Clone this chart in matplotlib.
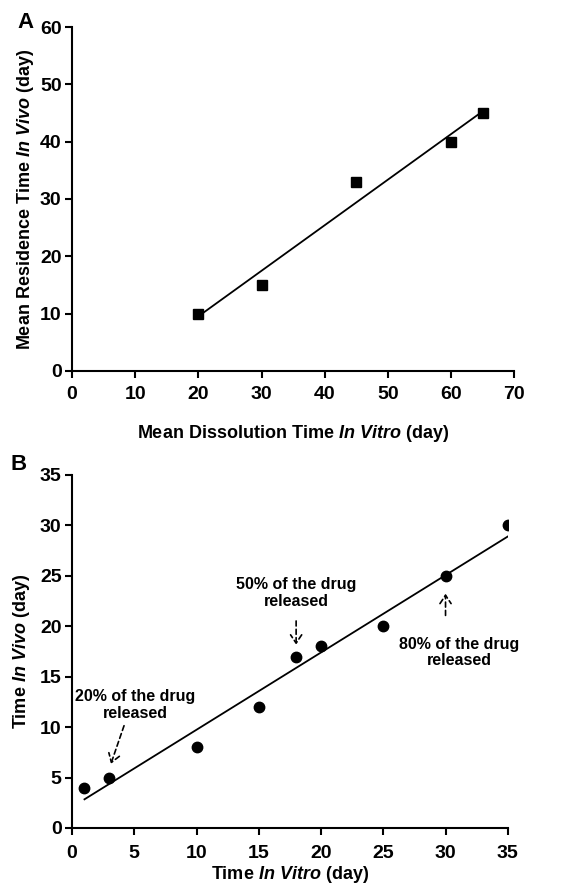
import numpy as np
import matplotlib
matplotlib.use("Agg")
import matplotlib.pyplot as plt

plt.rcParams['font.family'] = ['Liberation Sans', 'DejaVu Sans']
plt.rcParams['font.weight'] = 'bold'
plt.rcParams['mathtext.fontset'] = 'custom'
plt.rcParams['mathtext.it'] = 'Liberation Sans:italic:bold'
plt.rcParams['mathtext.rm'] = 'Liberation Sans:bold'

# Panel A data
a_x = [20, 30, 45, 60, 65]
a_y = [10, 15, 33, 40, 45]
a_xticks = [0, 10, 20, 30, 40, 50, 60, 70]
a_yticks = [0, 10, 20, 30, 40, 50, 60]

# Panel B data
b_x = [1, 3, 10, 15, 18, 20, 25, 30, 35]
b_y = [4, 5, 8, 12, 17, 18, 20, 25, 30]
b_xticks = [0, 5, 10, 15, 20, 25, 30, 35]
b_yticks = [0, 5, 10, 15, 20, 25, 30, 35]

ann_texts = ["20% of the drug\nreleased", "50% of the drug\nreleased", "80% of the drug\nreleased"]
ann_text_pos = [(5.1, 12.2), (18.0, 23.3), (31.1, 17.4)]
ann_arrow_from = [(4.25, 10.4), (18.0, 20.8), (30.0, 20.8)]
ann_arrow_to = [(3.05, 6.1), (18.0, 17.9), (30.0, 23.5)]

fig = plt.figure(figsize=(5.79, 8.86), dpi=100)
axA = fig.add_axes([0.1244, 0.5813, 0.888 - 0.1244, 0.9695 - 0.5813])
axB = fig.add_axes([0.1244, 0.0655, 0.877 - 0.1244, 0.4639 - 0.0655])

def style(ax, xpad):
    for s in ['top', 'right']:
        ax.spines[s].set_visible(False)
    for s in ['left', 'bottom']:
        ax.spines[s].set_linewidth(1.5)
    ax.tick_params(direction='out', length=5, width=1.5, labelsize=14, pad=2.5)
    ax.tick_params(axis='x', pad=xpad)
    for lab in ax.get_xticklabels() + ax.get_yticklabels():
        lab.set_fontweight('bold')

# Panel A
axA.plot(a_x, a_y, 's', color='black', markersize=7.5, zorder=3)
ca = np.polyfit(a_x, a_y, 1)
xa = np.array([min(a_x), max(a_x)])
axA.plot(xa, np.polyval(ca, xa), '-', color='black', lw=1.3)
axA.set_xlim(0, 70)
axA.set_ylim(0, 60)
axA.set_xticks(a_xticks)
axA.set_yticks(a_yticks)
style(axA, 6)
axA.set_xlabel(r"Mean Dissolution Time $\mathit{In\ Vitro}$ (day)", fontsize=13, fontweight='bold', labelpad=14)
axA.set_ylabel(r"Mean Residence Time $\mathit{In\ Vivo}$ (day)", fontsize=13, fontweight='bold', labelpad=3)

# Panel B
axB.plot(b_x, b_y, 'o', color='black', markersize=7.5, zorder=3)
cb = np.polyfit(b_x, b_y, 1)
xb = np.array([min(b_x), max(b_x)])
axB.plot(xb, np.polyval(cb, xb), '-', color='black', lw=1.3)
axB.set_xlim(0, 35)
axB.set_ylim(0, 35)
axB.set_xticks(b_xticks)
axB.set_yticks(b_yticks)
style(axB, 7)
axB.set_xlabel(r"Time $\mathit{In\ Vitro}$ (day)", fontsize=13, fontweight='bold', labelpad=2)
axB.set_ylabel(r"Time $\mathit{In\ Vivo}$ (day)", fontsize=13, fontweight='bold', labelpad=6)

for t, tp, af, at in zip(ann_texts, ann_text_pos, ann_arrow_from, ann_arrow_to):
    axB.text(tp[0], tp[1], t, ha='center', va='center', fontsize=11.5, fontweight='bold', linespacing=1.15)
    axB.annotate('', xy=at, xytext=af,
                 arrowprops=dict(arrowstyle='->,head_length=0.6,head_width=0.4', color='black',
                                 lw=1.2, linestyle=(0, (3, 2))))

fig.text(25 / 579, 1 - 22 / 886, "A", fontsize=16, fontweight='bold', ha='center', va='center')
fig.text(19 / 579, 1 - 465 / 886, "B", fontsize=16, fontweight='bold', ha='center', va='center')

fig.savefig("out.png", dpi=100)
